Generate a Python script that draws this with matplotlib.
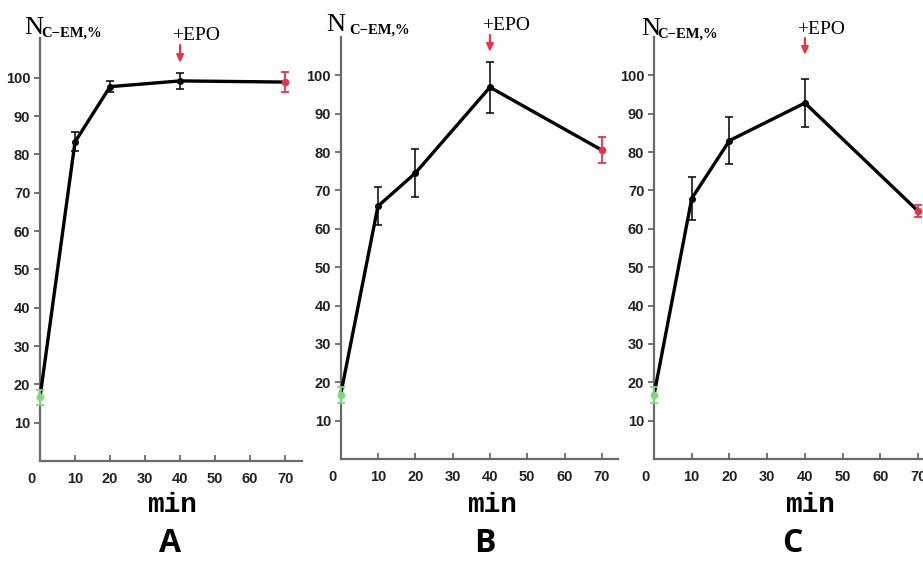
import matplotlib
matplotlib.use("Agg")
import matplotlib.pyplot as plt

W, H = 923, 561

times = [0, 10, 20, 40, 70]
x_ticks = [10, 20, 30, 40, 50, 60, 70]
y_ticks = [10, 20, 30, 40, 50, 60, 70, 80, 90, 100]

vals_A = [16.6, 83.3, 97.7, 99.2, 98.9]
err_A = [2.0, 2.5, 1.5, 2.1, 2.7]
vals_B = [16.7, 65.9, 74.5, 96.9, 80.5]
err_B = [2.0, 5.0, 6.2, 6.6, 3.4]
vals_C = [16.7, 67.9, 83.0, 92.8, 64.6]
err_C = [2.0, 5.6, 6.1, 6.2, 1.5]
panel_labels = ["A", "B", "C"]

GREEN = "#7ed87e"
RED = "#e8334a"
AXC = "#6a6a6a"
TICKFONT = ["Liberation Sans Narrow", "Liberation Sans", "DejaVu Sans"]

fig = plt.figure(figsize=(W / 100, H / 100), dpi=100)
fig.patch.set_facecolor("white")

# pixel layouts: (left, right, bottom_y, top_y, xmax, ymax)
layouts = [
    (40, 302, 461, 38, 74.8, 110.4),
    (340.6, 618, 459, 37, 74.3, 110.0),
    (654, 937, 459, 37, 75.0, 110.0),
]
# text positions in pixels
n_pos = [(24, 34), (326, 31), (641, 35)]
sub_pos = [(41, 37), (349, 34), (657, 38)]
epo_pos = [(172, 35), (482, 25), (797, 30)]
arrow_px = [(45, 63), (35, 52), (38, 55)]
min_pos = [(172, 505), (492, 505), (810, 505)]
let_pos = [(170, 544), (485, 544), (792, 544)]

def fx(px):
    return px / W

def fy(py):
    return 1 - py / H

datasets = [(vals_A, err_A), (vals_B, err_B), (vals_C, err_C)]

for i, ((l, r, b, t, xmax, ymax), (vals, errs)) in enumerate(zip(layouts, datasets)):
    ax = fig.add_axes([fx(l), fy(b), (r - l) / W, (b - t) / H])
    ax.set_xlim(0, xmax)
    ax.set_ylim(0, ymax)
    for s in ["top", "right"]:
        ax.spines[s].set_visible(False)
    for s in ["left", "bottom"]:
        ax.spines[s].set_color(AXC)
        ax.spines[s].set_linewidth(1.6)
    ax.set_xticks(x_ticks)
    ax.set_yticks(y_ticks)
    ax.tick_params(axis="x", direction="in", length=4, width=1.3, color=AXC, pad=8,
                   labelsize=10.5)
    ax.tick_params(axis="y", direction="out", length=4, width=1.3, color=AXC, pad=3,
                   labelsize=10.5)
    for lab in ax.get_xticklabels() + ax.get_yticklabels():
        lab.set_fontfamily(TICKFONT)
        lab.set_fontweight("bold")
        lab.set_color("#222222")
    ax.annotate("0", xy=(0, 0), xycoords="data", xytext=(-6, -13), textcoords="offset points",
                ha="center", va="center", fontsize=10.5, fontweight="bold", color="#222222",
                family=TICKFONT, annotation_clip=False)

    # main line
    ax.plot(times, vals, color="black", lw=2.4, zorder=3, clip_on=False)
    # middle error bars
    ax.errorbar(times[1:-1], vals[1:-1], yerr=errs[1:-1], fmt="o", color="black",
                ms=4, elinewidth=1.1, capsize=3, capthick=1.1, zorder=4, clip_on=False)
    ax.errorbar([times[0]], [vals[0]], yerr=[errs[0]], fmt="o", color=GREEN,
                ms=4.5, elinewidth=1.3, capsize=3, capthick=1.3, zorder=5, clip_on=False)
    ax.errorbar([times[-1]], [vals[-1]], yerr=[errs[-1]], fmt="o", color=RED,
                ms=4.5, elinewidth=1.3, capsize=3, capthick=1.3, zorder=5, clip_on=False)

    # arrow (EPO addition at t=40)
    ax_px = lambda py: (b - py) / (b - t) * ymax
    y_tail, y_tip = arrow_px[i]
    ax.annotate("", xy=(40, ax_px(y_tip)), xytext=(40, ax_px(y_tail)),
                arrowprops=dict(arrowstyle="-|>,head_length=0.45,head_width=0.2",
                                color=RED, lw=1.6, shrinkA=0, shrinkB=0),
                annotation_clip=False)

    # texts
    fig.text(fx(n_pos[i][0]), fy(n_pos[i][1]), "N", family="Liberation Serif",
             fontsize=19, ha="left", va="baseline")
    fig.text(fx(sub_pos[i][0]), fy(sub_pos[i][1]), "C\u2212EM,%", family="Liberation Serif",
             fontsize=10.5, fontweight="bold", ha="left", va="baseline")
    fig.text(fx(epo_pos[i][0]), fy(epo_pos[i][1]), "+EPO", family="Liberation Serif",
             fontsize=14, ha="left", va="center")
    fig.text(fx(min_pos[i][0]), fy(min_pos[i][1]), "min", family="Liberation Mono",
             fontsize=20, fontweight="bold", ha="center", va="center")
    fig.text(fx(let_pos[i][0]), fy(let_pos[i][1]), panel_labels[i],
             family=["Open Sans", "DejaVu Sans"], fontsize=23, fontweight="bold",
             ha="center", va="center")

fig.savefig("out.png", dpi=100, facecolor="white")
